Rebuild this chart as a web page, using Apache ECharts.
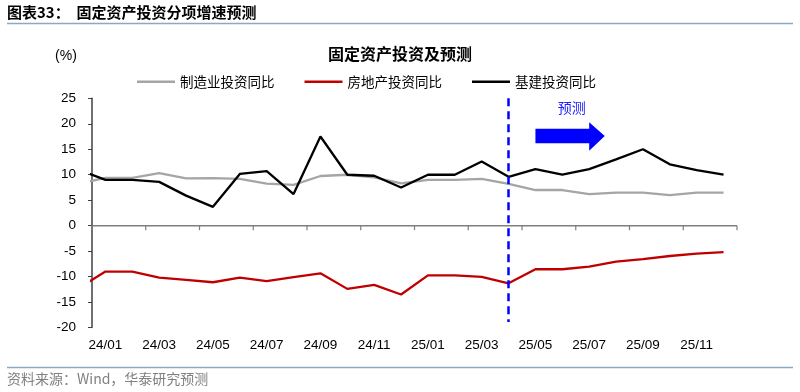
<!DOCTYPE html>
<html>
<head>
<meta charset="utf-8">
<script src="https://cdn.jsdelivr.net/npm/echarts@6/dist/echarts.min.js"></script>
<style>
html,body{margin:0;padding:0;background:#fff;}
#chart{width:800px;height:392px;}
</style>
</head>
<body>
<div id="chart"></div>
<script>
const months = ['23/12','24/01','24/02','24/03','24/04','24/05','24/06','24/07','24/08','24/09','24/10','24/11','24/12',
                '25/01','25/02','25/03','25/04','25/05','25/06','25/07','25/08','25/09','25/10','25/11','25/12'];
const axisCategories = months.slice(1);
const manufacturing = [8.2, 9.4, 9.4, 10.3, 9.3, 9.35, 9.2, 8.25, 8.0, 9.75, 10.0, 9.5, 8.3,
                       9.0, 9.0, 9.2, 8.2, 7.0, 7.0, 6.2, 6.5, 6.5, 6.0, 6.5, 6.5];
const realEstate = [-12.3, -9.0, -9.0, -10.2, -10.65, -11.1, -10.2, -10.9, -10.1, -9.35, -12.4, -11.6, -13.5,
                    -9.75, -9.75, -10.05, -11.3, -8.55, -8.55, -8.05, -7.05, -6.55, -5.95, -5.5, -5.2];
const infrastructure = [11.0, 9.0, 9.0, 8.6, 5.9, 3.7, 10.15, 10.7, 6.2, 17.5, 10.0, 9.8, 7.5,
                        10.0, 10.0, 12.6, 9.6, 11.1, 10.0, 11.1, 13.0, 15.0, 12.05, 10.9, 10.0];
const yTicks = [-20, -15, -10, -5, 0, 5, 10, 15, 20, 25];
const forecastStart = '25/04';
const seriesNames = ['制造业投资同比', '房地产投资同比', '基建投资同比'];

const forecastIdx = axisCategories.indexOf(forecastStart);
const toPts = arr => arr.map((v, i) => [i - 1, v]);

const CJK = '"Noto Sans CJK SC", "Noto Sans", sans-serif';
const LAT = '"Liberation Sans", Arial, sans-serif';

const chart = echarts.init(document.getElementById('chart'), null, {renderer: 'canvas'});

const lineSeries = (name, data, color) => ({
  name, type: 'line', xAxisIndex: 0, yAxisIndex: 0,
  data: toPts(data), symbol: 'none', clip: true,
  lineStyle: {color, width: 2.3}, itemStyle: {color},
  emphasis: {disabled: true}, animation: false
});

const s3 = lineSeries(seriesNames[2], infrastructure, '#000000');
s3.markLine = {
  silent: true, symbol: 'none', animation: false,
  label: {show: false},
  lineStyle: {color: '#0000FF', type: [8, 5], width: 2.5},
  data: [[{coord: [forecastIdx, 25]}, {coord: [forecastIdx, -18.9]}]]
};

const option = {
  animation: false,
  backgroundColor: '#ffffff',
  title: {
    text: '固定资产投资及预测', left: 'center', top: 41,
    textStyle: {fontFamily: CJK, fontSize: 16, fontWeight: 'bold', color: '#000'}
  },
  legend: {
    left: 132, top: 70, itemGap: 30, itemWidth: 38, itemHeight: 2.5, icon: 'rect',
    data: seriesNames,
    textStyle: {fontFamily: CJK, fontSize: 13.5, color: '#000'}
  },
  grid: {left: 92, right: 63, top: 98.3, bottom: 64.4, containLabel: false},
  xAxis: [
    {
      type: 'value', min: -0.5, max: axisCategories.length - 0.5, interval: 2, gridIndex: 0, position: 'bottom',
      axisLine: {show: false, onZero: false}, axisTick: {show: false},
      axisLabel: {show: false}, splitLine: {show: false}
    },
    {
      type: 'category', data: axisCategories, boundaryGap: true, gridIndex: 0, position: 'bottom',
      axisLine: {show: false, onZero: false}, axisTick: {show: false},
      axisLabel: {show: true, interval: 1, margin: 11, fontFamily: LAT, fontSize: 13.5, color: '#000'},
      splitLine: {show: false}
    }
  ],
  yAxis: [{
    type: 'value', min: yTicks[0], max: yTicks[yTicks.length - 1], interval: 5, position: 'left',
    axisLine: {show: true, onZero: false, lineStyle: {color: '#404040', width: 1.5}},
    axisTick: {show: true, length: 4, lineStyle: {color: '#404040'}},
    axisLabel: {margin: 16, fontFamily: LAT, fontSize: 13.5, color: '#000'},
    splitLine: {show: false}
  }],
  series: [
    lineSeries(seriesNames[0], manufacturing, '#A5A5A5'),
    lineSeries(seriesNames[1], realEstate, '#C00000'),
    s3
  ]
};
chart.setOption(option);

const px = (x, y) => chart.convertToPixel({xAxisIndex: 0, yAxisIndex: 0}, [x, y]);

// zero line and month-boundary ticks, positioned from the chart's scales
const yZero = (px(0, 5)[1] + px(0, -5)[1]) / 2;
const xL = px(-0.5, 5)[0], xR = px(axisCategories.length - 0.5, 5)[0];
const axisMarks = [
  {type: 'rect', z: 60, shape: {x: xL, y: yZero - 0.75, width: xR - xL, height: 1.5}, style: {fill: '#7F7F7F'}}
];
for (let b = -0.5; b <= axisCategories.length - 0.5; b += 2) {
  const bx = px(b, 5)[0];
  axisMarks.push({type: 'rect', z: 60, shape: {x: bx - 0.6, y: yZero, width: 1.2, height: 4.5}, style: {fill: '#7F7F7F'}});
}

const a0 = px(forecastIdx + 1.0, 19.0), a1 = px(forecastIdx + 3.0, 16.2);
const h0 = px(forecastIdx + 3.0, 20.3), h1 = px(forecastIdx + 3.0, 14.7);
const tip = px(forecastIdx + 3.58, 17.6);
const txt = px(forecastIdx + 2.35, 23.2);

chart.setOption({
  graphic: axisMarks.concat([
    {type: 'text', left: 7, top: 5, style: {text: '图表33：  固定资产投资分项增速预测', font: 'bold 15px ' + CJK, fill: '#000'}},
    {type: 'line', shape: {x1: 7, y1: 23.5, x2: 793, y2: 23.5}, style: {stroke: '#8FA7C6', lineWidth: 1.5}},
    {type: 'line', shape: {x1: 7, y1: 367.5, x2: 793, y2: 367.5}, style: {stroke: '#8FA7C6', lineWidth: 1.5}},
    {type: 'text', left: 7, top: 372, style: {text: '资料来源：Wind，华泰研究预测', font: '14px ' + CJK, fill: '#808080'}},
    {type: 'text', x: 66, y: 56, style: {text: '(%)', font: '14px ' + LAT, fill: '#000', align: 'center', verticalAlign: 'middle'}},
    {type: 'text', x: txt[0], y: txt[1], style: {text: '预测', font: '14px ' + CJK, fill: '#2020FF', align: 'center', verticalAlign: 'middle'}},
    {type: 'polygon', shape: {points: [
      [a0[0], a0[1]], [a1[0], a0[1]], [h0[0], h0[1]], [tip[0], tip[1]], [h1[0], h1[1]], [a1[0], a1[1]], [a0[0], a1[1]]
    ]}, style: {fill: '#0000FF'}}
  ])
});
</script>
</body>
</html>
